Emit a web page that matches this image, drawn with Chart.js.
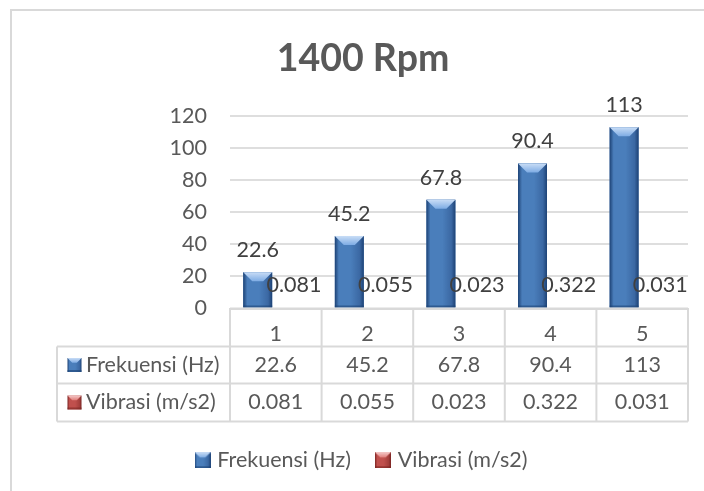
<!DOCTYPE html>
<html>
<head>
    <meta charset="utf-8">
    <title>1400 Rpm</title>
    <script src="https://cdn.jsdelivr.net/npm/chart.js@4.4.0/dist/chart.umd.min.js"></script>
    <style>
        html, body { margin: 0; padding: 0; background: #fff; overflow: hidden; }
        #frame { position: absolute; left: 10px; top: 9px; width: 900px; height: 700px; border: 2px solid #d9d9d9; box-sizing: border-box; }
        #wrap { position: absolute; left: 11px; top: 0; width: 704px; height: 491px; }
    </style>
</head>
<body>
    <div id="frame"></div>
    <div id="wrap"><canvas id="myChart" width="704" height="491"></canvas></div>
    <script>
        // data
        const categories = ['1', '2', '3', '4', '5'];
        const seriesNames = ['Frekuensi (Hz)', 'Vibrasi (m/s2)'];
        const frekuensi = [22.6, 45.2, 67.8, 90.4, 113];
        const vibrasi = [0.081, 0.055, 0.023, 0.322, 0.031];
        const yTicks = [0, 20, 40, 60, 80, 100, 120];

        const FONT = 'Lato';
        const FS = 21.5;
        const blue = { base: '#4a7ebb', shade: '#3b68a3', edge: '#1d4275', hi: '#c9ddf6', hi2: '#7eace4' };
        const red = { base: '#c0504d', shade: '#a43f3c', edge: '#7a2422', hi: '#f4c9c8', hi2: '#e07d7a' };
        const palettes = [blue, red];

        // excel style bevel on a rectangle
        function bevel(ctx, l, t, w, h, pal) {
            if (h < 3 || w < 3) return;
            const b = Math.min(9, w / 3, h / 2);
            ctx.save();
            let g = ctx.createLinearGradient(l, 0, l + w, 0);
            g.addColorStop(0, pal.edge);
            g.addColorStop(0.14, pal.base);
            g.addColorStop(0.55, pal.base);
            g.addColorStop(0.86, pal.shade);
            g.addColorStop(1, pal.edge);
            ctx.fillStyle = g;
            ctx.fillRect(l, t, w, h);
            ctx.beginPath();
            ctx.moveTo(l, t);
            ctx.lineTo(l + w, t);
            ctx.lineTo(l + w - b, t + b);
            ctx.lineTo(l + b, t + b);
            ctx.closePath();
            g = ctx.createLinearGradient(0, t, 0, t + b);
            g.addColorStop(0, pal.hi);
            g.addColorStop(1, pal.hi2);
            ctx.fillStyle = g;
            ctx.fill();
            ctx.globalAlpha = 0.6;
            ctx.fillStyle = pal.edge;
            ctx.fillRect(l, t + h - 2, w, 2);
            ctx.restore();
        }

        function makeKey(pal, size) {
            const c = document.createElement('canvas');
            c.width = size;
            c.height = size;
            bevel(c.getContext('2d'), 0, 0, size, size, pal);
            return c;
        }
        const legendKeys = [makeKey(blue, 16), makeKey(red, 16)];

        // bars shading + value labels
        const barLook = {
            id: 'barLook',
            afterDatasetsDraw(chart) {
                const ctx = chart.ctx;
                chart.data.datasets.forEach((ds, i) => {
                    chart.getDatasetMeta(i).data.forEach(el => {
                        const p = el.getProps(['x', 'y', 'base', 'width'], true);
                        bevel(ctx, p.x - p.width / 2, p.y, p.width, p.base - p.y, palettes[i]);
                    });
                });
                ctx.save();
                ctx.font = FS + 'px ' + FONT;
                ctx.fillStyle = '#404040';
                ctx.textAlign = 'center';
                ctx.textBaseline = 'middle';
                chart.data.datasets.forEach((ds, i) => {
                    chart.getDatasetMeta(i).data.forEach((el, j) => {
                        const p = el.getProps(['x', 'y'], true);
                        ctx.fillText(String(ds.data[j]), p.x, p.y - 22);
                    });
                });
                ctx.restore();
            }
        };

        // data table under the x axis
        const dataTable = {
            id: 'dataTable',
            afterDraw(chart) {
                const { ctx, chartArea: a, scales: { x } } = chart;
                const n = categories.length;
                const colW = x.getPixelForValue(1) - x.getPixelForValue(0);
                const edges = [];
                for (let i = 0; i <= n; i++) edges.push(x.getPixelForValue(0) - colW / 2 + i * colW);
                const rows = [a.bottom, a.bottom + 38, a.bottom + 75, a.bottom + 113];
                const headLeft = 46;
                ctx.save();
                ctx.strokeStyle = '#d9d9d9';
                ctx.lineWidth = 2;
                ctx.beginPath();
                edges.forEach(e => { ctx.moveTo(e, rows[0]); ctx.lineTo(e, rows[3]); });
                ctx.moveTo(headLeft, rows[1]); ctx.lineTo(headLeft, rows[3]);
                ctx.moveTo(edges[0], rows[0]); ctx.lineTo(edges[n], rows[0]);
                for (let r = 1; r <= 3; r++) { ctx.moveTo(headLeft, rows[r]); ctx.lineTo(edges[n], rows[r]); }
                ctx.stroke();

                ctx.font = FS + 'px ' + FONT;
                ctx.fillStyle = '#595959';
                ctx.textBaseline = 'middle';
                chart.data.datasets.forEach((ds, i) => {
                    const cy = (rows[i + 1] + rows[i + 2]) / 2;
                    bevel(ctx, headLeft + 10.5, cy - 7, 14, 14, palettes[i]);
                    ctx.textAlign = 'left';
                    ctx.fillText(ds.label, headLeft + 29, cy);
                    ctx.textAlign = 'center';
                    ds.data.forEach((v, j) => {
                        ctx.fillText(String(v), x.getPixelForValue(j), cy);
                    });
                });
                ctx.restore();
            }
        };

        const config = {
            type: 'bar',
            data: {
                labels: categories,
                datasets: [
                    { label: seriesNames[0], data: frekuensi, backgroundColor: blue.base, minBarLength: 1 },
                    { label: seriesNames[1], data: vibrasi, backgroundColor: red.base, minBarLength: 1 }
                ]
            },
            options: {
                responsive: false,
                animation: false,
                layout: { padding: { left: 27, right: 27, top: 0, bottom: 10 } },
                datasets: { bar: { categoryPercentage: 0.79, barPercentage: 0.8 } },
                scales: {
                    x: {
                        grid: { display: false },
                        border: { display: true, color: '#d9d9d9', width: 2 },
                        ticks: { color: '#595959', font: { family: FONT, size: FS }, padding: 5 },
                        afterFit(s) { s.height = 113; }
                    },
                    y: {
                        min: yTicks[0],
                        max: yTicks[yTicks.length - 1],
                        ticks: { stepSize: yTicks[1] - yTicks[0], color: '#595959', font: { family: FONT, size: FS }, padding: 23 },
                        grid: { color: '#dedede', lineWidth: 2, drawTicks: false },
                        border: { display: false },
                        afterFit(s) { s.width = 192; }
                    }
                },
                plugins: {
                    title: {
                        display: true,
                        text: '1400 Rpm',
                        color: '#595959',
                        font: { family: FONT, size: 37.5, weight: 'bold' },
                        padding: { top: 36, bottom: 35 }
                    },
                    legend: {
                        position: 'bottom',
                        labels: {
                            color: '#595959',
                            font: { family: FONT, size: FS },
                            usePointStyle: true,
                            boxWidth: 8,
                            padding: 28,
                            generateLabels(chart) {
                                const items = Chart.defaults.plugins.legend.labels.generateLabels(chart);
                                items.forEach((it, i) => { it.pointStyle = legendKeys[i]; });
                                return items;
                            }
                        }
                    },
                    tooltip: { enabled: false }
                }
            },
            plugins: [barLook, dataTable]
        };

        const myChart = new Chart(document.getElementById('myChart'), config);
    </script>
</body>
</html>
